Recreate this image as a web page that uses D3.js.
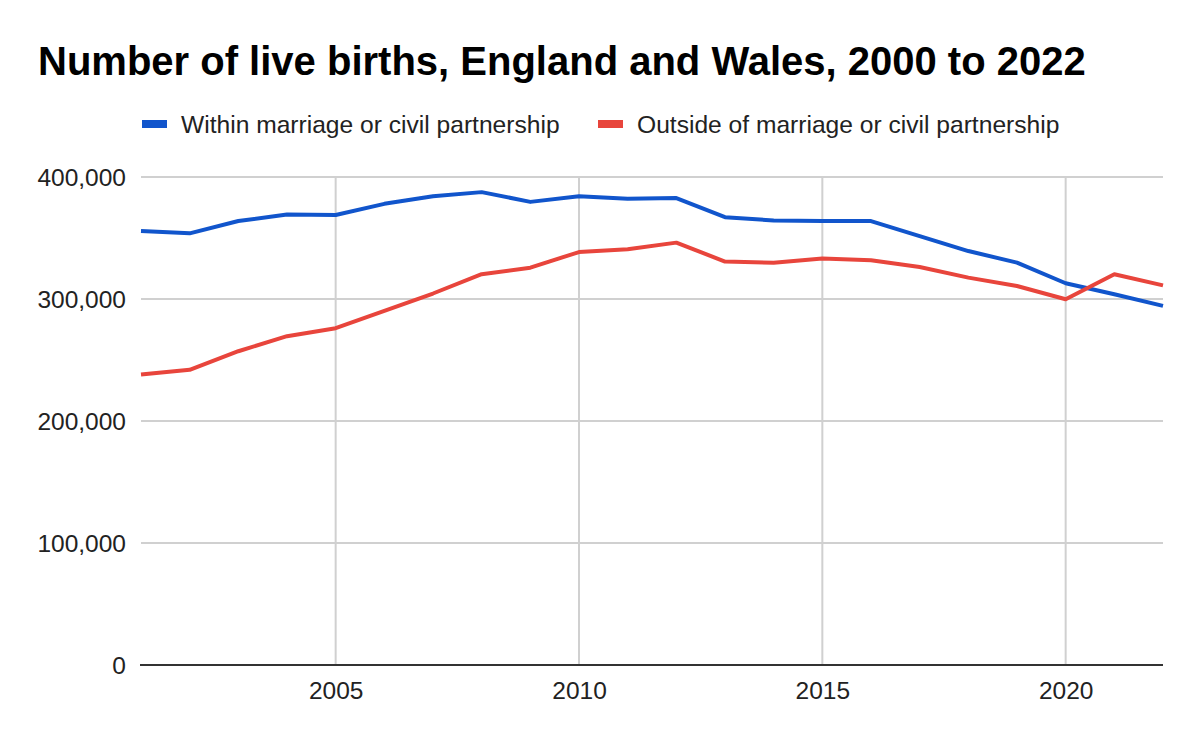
<!DOCTYPE html>
<html>
<head>
<meta charset="utf-8">
<script src="https://d3js.org/d3.v7.min.js"></script>
<style>
  body { margin: 0; background: #fff; font-family: Arial, "Liberation Sans", sans-serif; }
  .grid line { stroke: #d0d0d0; stroke-width: 2; }
  .tick text { fill: #222; }
</style>
</head>
<body>
<div id="chart"></div>
<script>
// data
const years = [2001, 2002, 2003, 2004, 2005, 2006, 2007, 2008, 2009, 2010, 2011,
               2012, 2013, 2014, 2015, 2016, 2017, 2018, 2019, 2020, 2021, 2022];
const within = [355700, 353800, 363900, 369300, 368800, 378000, 384300, 387600, 379600, 384300, 382100,
                382700, 367100, 364400, 363900, 363900, 351600, 339300, 329800, 312900, 303900, 294400];
const outside = [238200, 242000, 257200, 269500, 276100, 290300, 304500, 320300, 325700, 338500, 340700,
                 346200, 330700, 329800, 333100, 331700, 326200, 317500, 310700, 299800, 320300, 311200];
const seriesNames = ["Within marriage or civil partnership", "Outside of marriage or civil partnership"];
const seriesColors = ["#1155cc", "#e8453c"];
const yTicks = [0, 100000, 200000, 300000, 400000];
const xTicks = [2005, 2010, 2015, 2020];

const W = 1200, H = 747;
const margin = {top: 177, right: 37, bottom: 82, left: 141};

const svg = d3.select("#chart").append("svg")
  .attr("width", W).attr("height", H);

const x = d3.scaleLinear().domain([2001, 2022]).range([margin.left, W - margin.right]);
const y = d3.scaleLinear().domain([0, 400000]).range([H - margin.bottom, margin.top]);

// title
svg.append("text")
  .attr("x", 38).attr("y", 75)
  .style("font-size", "40px").style("font-weight", "bold").attr("fill", "#000")
  .text("Number of live births, England and Wales, 2000 to 2022");

// legend
const legendX = [142, 598];
seriesNames.forEach((name, i) => {
  const g = svg.append("g").attr("transform", `translate(${legendX[i]},0)`);
  g.append("rect").attr("x", 0).attr("y", 120).attr("width", 25).attr("height", 8)
    .attr("fill", seriesColors[i]);
  g.append("text").attr("x", 39).attr("y", 132.5)
    .style("font-size", "24.6px").attr("fill", "#222").text(name);
});

// horizontal gridlines
svg.append("g").attr("class", "grid")
  .selectAll("line").data(yTicks.filter(d => d > 0)).join("line")
  .attr("x1", x(2001)).attr("x2", x(2022))
  .attr("y1", d => y(d)).attr("y2", d => y(d));

// vertical gridlines
svg.append("g").attr("class", "grid")
  .selectAll("line").data(xTicks).join("line")
  .attr("x1", d => x(d)).attr("x2", d => x(d))
  .attr("y1", y(400000)).attr("y2", y(0));

// y axis labels
const yAxis = svg.append("g")
  .attr("transform", `translate(${margin.left},0)`)
  .call(d3.axisLeft(y).tickValues(yTicks).tickFormat(d3.format(",")).tickSize(0).tickPadding(15));
yAxis.select(".domain").remove();
yAxis.selectAll("text").style("font-size", "24.5px").style("font-family", "Arial, 'Liberation Sans', sans-serif")
  .attr("dy", "0.35em");

// x axis labels
const xAxis = svg.append("g")
  .attr("transform", `translate(0,${H - margin.bottom})`)
  .call(d3.axisBottom(x).tickValues(xTicks).tickFormat(d3.format("d")).tickSize(0).tickPadding(17));
xAxis.select(".domain").remove();
xAxis.selectAll("text").style("font-size", "24.5px").style("font-family", "Arial, 'Liberation Sans', sans-serif");

// baseline
svg.append("line")
  .attr("x1", x(2001) - 1).attr("x2", x(2022))
  .attr("y1", y(0)).attr("y2", y(0))
  .attr("stroke", "#333").attr("stroke-width", 2);

// lines
const line = d3.line().x((d, i) => x(years[i])).y(d => y(d));
[within, outside].forEach((vals, i) => {
  svg.append("path").datum(vals)
    .attr("fill", "none")
    .attr("stroke", seriesColors[i])
    .attr("stroke-width", 4)
    .attr("stroke-linejoin", "round")
    .attr("d", line);
});
</script>
</body>
</html>
